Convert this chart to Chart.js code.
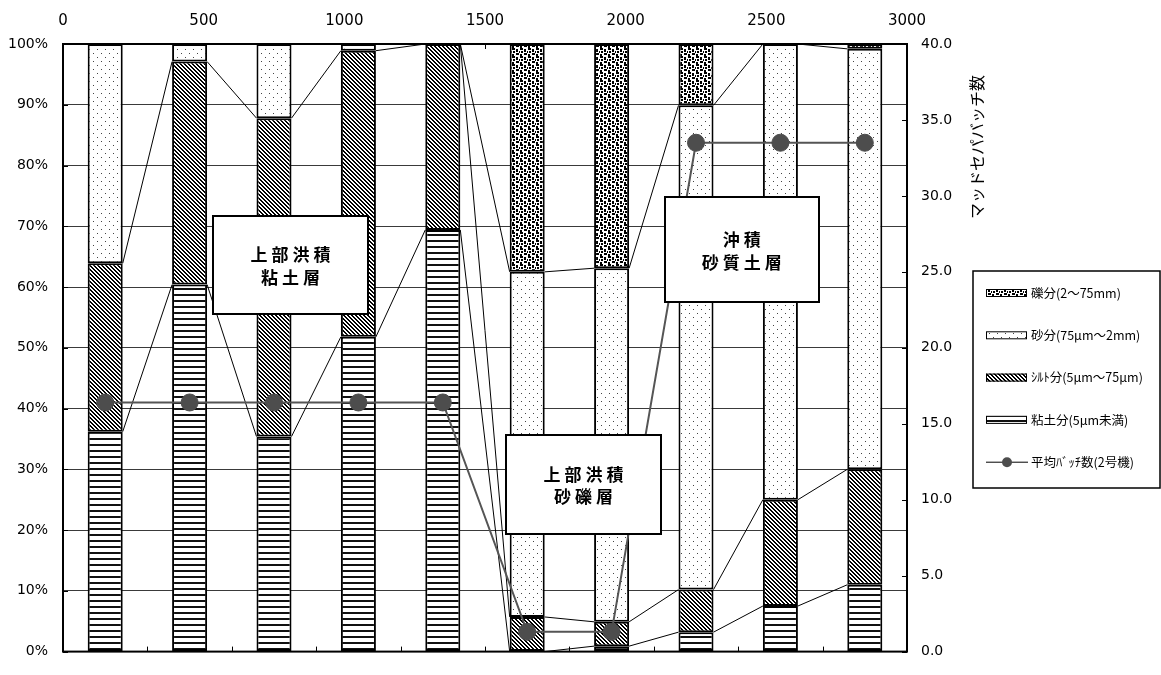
<!DOCTYPE html>
<html>
<head>
<meta charset="utf-8">
<script src="https://cdn.jsdelivr.net/npm/chart.js@4/dist/chart.umd.min.js"></script>
<style>
  html, body { margin: 0; padding: 0; background: #fff; }
  #wrap { width: 1161px; height: 675px; }
</style>
</head>
<body>
<div id="wrap"><canvas id="c" width="1161" height="675"></canvas></div>
<script>
// Sampling points (one bar each)
const categories = ['1', '2', '3', '4', '5', '6', '7', '8', '9', '10'];

// Grain-size fractions (%), stacked from the bottom up
const clay   = [36.2, 60.4, 35.4, 51.8, 69.4, 0.0, 0.9, 3.2, 7.5, 11.0];
const silt   = [27.7, 36.7, 52.4, 47.1, 30.6, 5.7, 4.0, 7.0, 17.5, 19.0];
const sand   = [36.1, 2.9, 12.2, 1.1, 0.0, 56.8, 58.2, 79.7, 75.0, 69.2];
const gravel = [0.0, 0.0, 0.0, 0.0, 0.0, 37.5, 36.9, 10.1, 0.0, 0.8];

// Average number of batches (mud separator No.2)
const batches = [16.4, 16.4, 16.4, 16.4, 16.4, 1.3, 1.3, 33.5, 33.5, 33.5];

// Tick values
const distanceTicks = [0, 500, 1000, 1500, 2000, 2500, 3000];
const percentTicks  = [0, 10, 20, 30, 40, 50, 60, 70, 80, 90, 100];
const batchTicks    = [0, 5, 10, 15, 20, 25, 30, 35, 40];

// Legend labels
const seriesLabels = ['礫分(2～75mm)', '砂分(75μm～2mm)', 'ｼﾙﾄ分(5μm～75μm)', '粘土分(5μm未満)', '平均ﾊﾞｯﾁ数(2号機)'];

// Layer annotations
const layerNotes = [
  { lines: ['上部洪積', '粘土層'], at: 2.195, pct: 63.6, w: 155, h: 98 },
  { lines: ['上部洪積', '砂礫層'], at: 5.667, pct: 27.5, w: 155, h: 99 },
  { lines: ['沖積', '砂質土層'],   at: 7.543, pct: 66.1, w: 154, h: 105 }
];

const canvas = document.getElementById('c');
const ctx0 = canvas.getContext('2d');

function makePattern(w, h, paint) {
  const t = document.createElement('canvas');
  t.width = w; t.height = h;
  const g = t.getContext('2d');
  g.fillStyle = '#fff';
  g.fillRect(0, 0, w, h);
  paint(g);
  return ctx0.createPattern(t, 'repeat');
}

function paintGrid(g, rows, color) {
  g.fillStyle = color;
  rows.forEach((r, y) => { for (let x = 0; x < r.length; x++) if (r[x] === '#') g.fillRect(x, y, 1, 1); });
}

// gravel: scattered blotches
const gravelPat = makePattern(8, 8, g => paintGrid(g, [
  '###.....',
  '###.##..',
  '....##..',
  '.##.##.#',
  '.##....#',
  '....###.',
  '##..###.',
  '##......'
], '#000'));
// sand: sparse dots
const sandPat = makePattern(8, 8, g => {
  g.fillStyle = '#444';
  g.fillRect(1, 1, 1, 1);
  g.fillRect(5, 5, 1, 1);
});
// silt: downward diagonal stripes
const siltPat = makePattern(4, 4, g => {
  g.fillStyle = '#000';
  for (let y = 0; y < 4; y++) for (let x = 0; x < 4; x++) {
    const d = ((x - y) % 4 + 4) % 4;
    if (d === 0 || d === 1) g.fillRect(x, y, 1, 1);
  }
});
// clay: horizontal lines
const clayPat = makePattern(6, 6, g => {
  g.fillStyle = '#111';
  g.fillRect(0, 0, 6, 2);
});

const JP = '"Noto Sans CJK JP", sans-serif';
const NUM = '"DejaVu Sans", sans-serif';

const decor = {
  id: 'decor',
  beforeDraw(chart) {
    const c = chart.ctx;
    c.save();
    c.fillStyle = '#fff';
    c.fillRect(0, 0, chart.width, chart.height);
    c.restore();
  },
  beforeDatasetsDraw(chart) {
    const c = chart.ctx, a = chart.chartArea, s = chart.scales;
    c.save();
    c.strokeStyle = '#000';
    c.lineWidth = 1;
    c.beginPath();
    percentTicks.forEach(v => {
      const y = Math.round(s.y.getPixelForValue(v)) + 0.5;
      c.moveTo(a.left, y); c.lineTo(a.left + 5, y);
    });
    batchTicks.forEach(v => {
      const y = Math.round(s.y2.getPixelForValue(v)) + 0.5;
      c.moveTo(a.right - 5, y); c.lineTo(a.right, y);
    });
    distanceTicks.forEach(v => {
      const x = Math.round(s.x2.getPixelForValue(v)) + 0.5;
      c.moveTo(x, a.top); c.lineTo(x, a.top + 5);
    });
    for (let k = 1; k < categories.length; k++) {
      const x = Math.round((s.x.getPixelForValue(k - 1) + s.x.getPixelForValue(k)) / 2) + 0.5;
      c.moveTo(x, a.bottom - 5); c.lineTo(x, a.bottom);
    }
    c.stroke();
    c.lineWidth = 2;
    c.strokeRect(a.left, a.top, a.right - a.left, a.bottom - a.top);
    c.restore();
  },
  beforeDatasetDraw(chart, args) {
    // series lines joining the tops of matching segments of neighbouring bars
    if (args.index !== 0) return;
    const c = chart.ctx;
    c.save();
    c.strokeStyle = '#000';
    c.lineWidth = 1;
    c.beginPath();
    for (let d = 1; d <= 4; d++) {
      const pts = chart.getDatasetMeta(d).data;
      for (let j = 0; j < pts.length - 1; j++) {
        const p = pts[j], q = pts[j + 1];
        c.moveTo(p.x + p.width / 2, p.y);
        c.lineTo(q.x - q.width / 2, q.y);
      }
    }
    c.stroke();
    c.restore();
  },
  afterDraw(chart) {
    const c = chart.ctx, a = chart.chartArea, s = chart.scales;
    c.save();
    // layer annotation boxes
    layerNotes.forEach(n => {
      const cx = s.x.getPixelForValue(n.at);
      const cy = s.y.getPixelForValue(n.pct);
      const x0 = Math.round(cx - n.w / 2), y0 = Math.round(cy - n.h / 2);
      c.fillStyle = '#fff';
      c.fillRect(x0, y0, n.w, n.h);
      c.strokeStyle = '#000';
      c.lineWidth = 2;
      c.strokeRect(x0, y0, n.w, n.h);
      c.fillStyle = '#000';
      c.font = 'bold 17px ' + JP;
      c.textAlign = 'center';
      c.textBaseline = 'middle';
      c.letterSpacing = '4px';
      const lh = 22.5;
      n.lines.forEach((t, i) => {
        c.fillText(t, cx + 2, cy + 1 + (i - (n.lines.length - 1) / 2) * lh);
      });
      c.letterSpacing = '0px';
    });

    // right axis title
    c.save();
    c.translate(a.right + 70, a.top + 103);
    c.rotate(-Math.PI / 2);
    c.font = '16px ' + JP;
    c.fillStyle = '#000';
    c.textAlign = 'center';
    c.textBaseline = 'middle';
    c.fillText('マッドセパバッチ数', 0, 0);
    c.restore();

    // legend
    const lx = a.right + 66, ly = 271, lw = 187, lh = 217;
    c.fillStyle = '#fff';
    c.fillRect(lx, ly, lw, lh);
    c.strokeStyle = '#000';
    c.lineWidth = 1.5;
    c.strokeRect(lx, ly, lw, lh);
    const fills = [gravelPat, sandPat, siltPat, clayPat];
    c.font = '12.5px ' + JP;
    c.textAlign = 'left';
    c.textBaseline = 'middle';
    seriesLabels.forEach((t, i) => {
      const ry = 293 + i * 42.3;
      if (i < 4) {
        c.fillStyle = fills[i];
        c.fillRect(lx + 13, ry - 4, 41, 8);
        c.strokeStyle = '#000';
        c.lineWidth = 1;
        c.strokeRect(lx + 13.5, ry - 3.5, 40, 7);
      } else {
        c.strokeStyle = '#000';
        c.lineWidth = 1;
        c.beginPath();
        c.moveTo(lx + 13, ry); c.lineTo(lx + 55, ry);
        c.stroke();
        c.fillStyle = '#4d4d4d';
        c.beginPath();
        c.arc(lx + 34, ry, 5, 0, Math.PI * 2);
        c.fill();
      }
      c.fillStyle = '#000';
      c.fillText(t, lx + 58, ry);
    });
    c.restore();
  }
};

const barStyle = { borderColor: '#000', borderWidth: 2, borderSkipped: false, barPercentage: 0.415, categoryPercentage: 1, xAxisID: 'x', yAxisID: 'y', stack: 's' };

new Chart(canvas, {
  data: {
    labels: categories,
    datasets: [
      { type: 'line', label: seriesLabels[4], data: batches, yAxisID: 'y2', xAxisID: 'x',
        borderColor: '#555', borderWidth: 2, tension: 0,
        pointRadius: 8.5, pointBackgroundColor: '#4d4d4d', pointBorderColor: '#4d4d4d', pointBorderWidth: 1 },
      Object.assign({ type: 'bar', label: seriesLabels[3], data: clay,   backgroundColor: clayPat }, barStyle),
      Object.assign({ type: 'bar', label: seriesLabels[2], data: silt,   backgroundColor: siltPat }, barStyle),
      Object.assign({ type: 'bar', label: seriesLabels[1], data: sand,   backgroundColor: sandPat }, barStyle),
      Object.assign({ type: 'bar', label: seriesLabels[0], data: gravel, backgroundColor: gravelPat }, barStyle)
    ]
  },
  options: {
    responsive: false,
    animation: false,
    devicePixelRatio: 1,
    layout: { padding: { left: 0, right: 0, top: 0, bottom: 7 } },
    plugins: { legend: { display: false }, tooltip: { enabled: false } },
    scales: {
      x: { type: 'category', display: false, stacked: true, offset: true },
      x2: {
        type: 'linear', position: 'top', min: 0, max: 3000,
        afterBuildTicks: sc => { sc.ticks = distanceTicks.map(v => ({ value: v })); },
        afterFit: sc => { sc.height = 44; },
        grid: { display: false, drawTicks: false },
        border: { display: false },
        ticks: { font: { family: NUM, size: 15 }, color: '#000', padding: 14, maxRotation: 0, callback: v => String(v) }
      },
      y: {
        type: 'linear', position: 'left', min: 0, max: 100, stacked: true,
        afterBuildTicks: sc => { sc.ticks = percentTicks.map(v => ({ value: v })); },
        afterFit: sc => { sc.width = 63; },
        grid: { color: '#3a3a3a', lineWidth: 1, drawTicks: false },
        border: { display: false },
        ticks: { font: { family: NUM, size: 14 }, color: '#000', padding: 15, callback: v => v + '%' }
      },
      y2: {
        type: 'linear', position: 'right', min: 0, max: 40,
        afterBuildTicks: sc => { sc.ticks = batchTicks.map(v => ({ value: v })); },
        afterFit: sc => { sc.width = 254; },
        grid: { display: false, drawTicks: false },
        border: { display: false },
        ticks: { font: { family: NUM, size: 14 }, color: '#000', padding: 14, callback: v => v.toFixed(1) }
      }
    }
  },
  plugins: [decor]
});
</script>
</body>
</html>
